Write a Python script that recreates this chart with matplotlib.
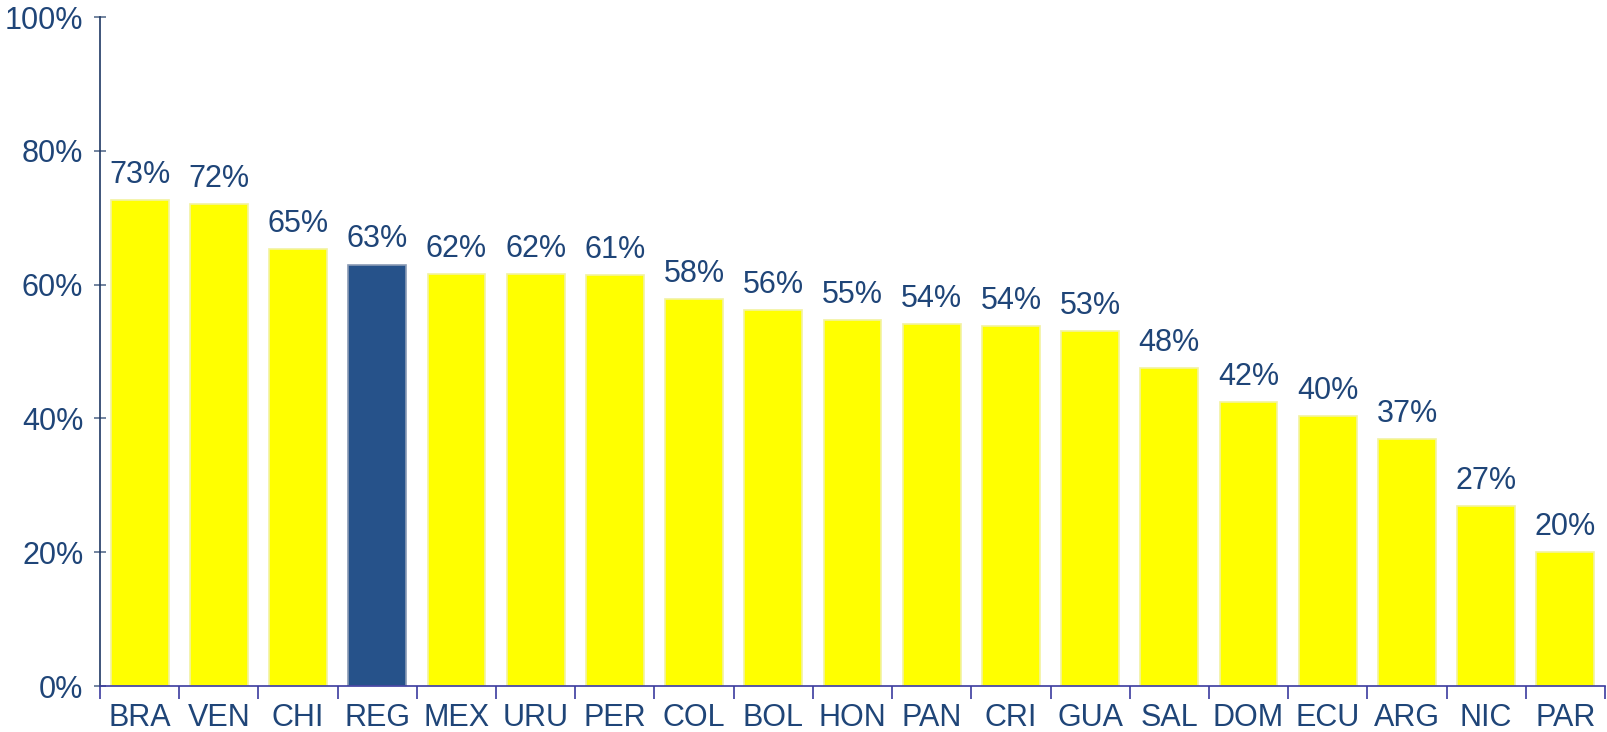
import matplotlib.pyplot as plt
import matplotlib.ticker as mticker

countries = ['BRA', 'VEN', 'CHI', 'REG', 'MEX', 'URU', 'PER', 'COL', 'BOL', 'HON',
             'PAN', 'CRI', 'GUA', 'SAL', 'DOM', 'ECU', 'ARG', 'NIC', 'PAR']
values = [72.7, 72.0, 65.3, 63.0, 61.6, 61.6, 61.4, 57.9, 56.2, 54.7,
          54.1, 53.8, 53.0, 47.6, 42.4, 40.4, 36.9, 26.9, 20.0]
highlight = 'REG'

textColor = '#1F4578'
plt.rcParams['font.family'] = ['Liberation Sans', 'DejaVu Sans']

fig = plt.figure(figsize=(16.07, 7.32), dpi=100)
ax = fig.add_axes([100/1607, 1 - 686/732, 1505/1607, 669/732])

x = range(len(countries))
colors = ['#26528A' if c == highlight else '#FFFF00' for c in countries]
edges = ['#8A9BB5' if c == highlight else '#F2F2A0' for c in countries]
bars = ax.bar(x, values, width=0.73, color=colors, edgecolor=edges, linewidth=1.2, zorder=2)

for xi, v in zip(x, values):
    ax.text(xi, v + 1.5, f"{round(v):.0f}%", ha='center', va='bottom',
            fontsize=22, color=textColor)

ax.set_xlim(-0.5, len(countries) - 0.5)
ax.set_ylim(0, 100)
ax.yaxis.set_major_locator(mticker.MultipleLocator(20))
ax.yaxis.set_major_formatter(mticker.FuncFormatter(lambda v, p: f"{v:.0f}%"))

ax.set_xticks(list(x))
ax.set_xticklabels(countries, fontsize=22, color=textColor)
ax.set_xticks([i - 0.5 for i in range(len(countries) + 1)], minor=True)
ax.tick_params(axis='x', which='major', length=0, pad=12)
ax.tick_params(axis='x', which='minor', length=9, direction='out', color='#3B3B9E', width=1.2)
ax.tick_params(axis='y', which='major', length=8, direction='inout', color='#5A6F8F',
               width=1.2, labelsize=22, labelcolor=textColor, pad=8)

for s in ['top', 'right']:
    ax.spines[s].set_visible(False)
ax.spines['left'].set_color('#1F3864')
ax.spines['left'].set_linewidth(1.2)
ax.spines['bottom'].set_color('#3B3B9E')
ax.spines['bottom'].set_linewidth(1.2)
ax.spines['bottom'].set_zorder(3)

fig.savefig('out.png', dpi=100)
